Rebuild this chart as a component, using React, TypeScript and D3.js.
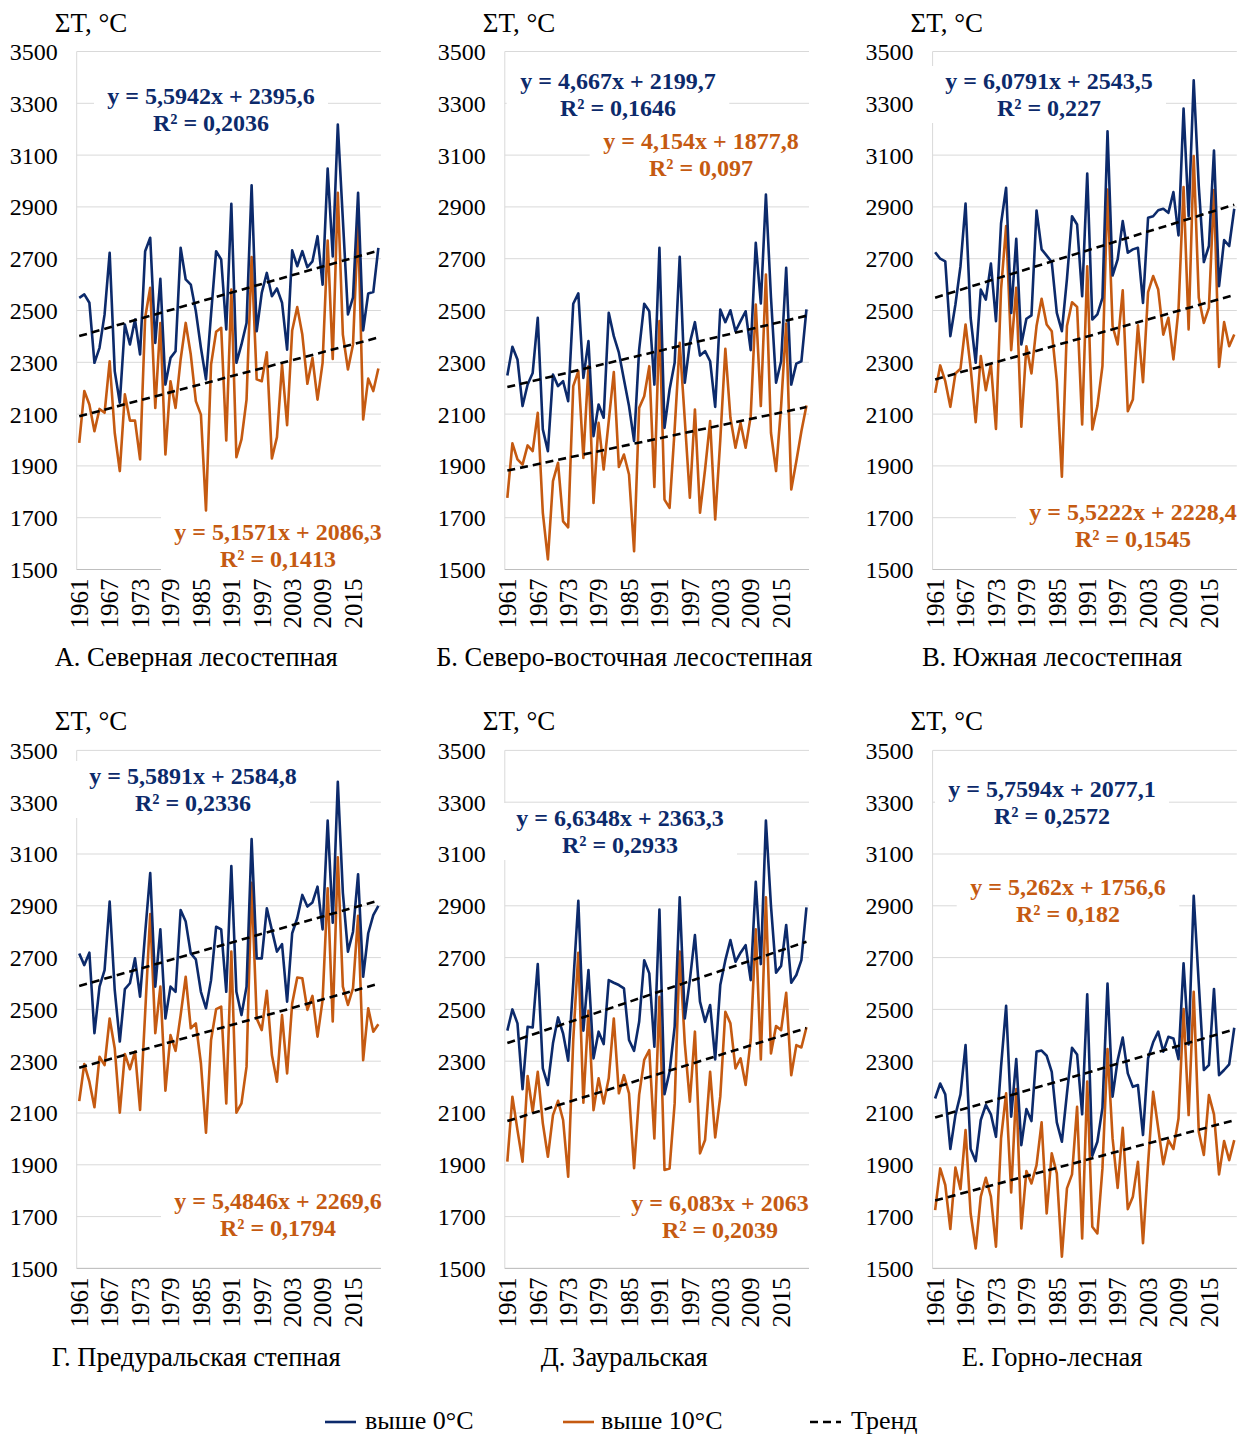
import React from "react";
import * as d3 from "d3";

const years = d3.range(1961, 2021);
const xTickYears = [1961, 1967, 1973, 1979, 1985, 1991, 1997, 2003, 2009, 2015];
const yTicks = [1500, 1700, 1900, 2100, 2300, 2500, 2700, 2900, 3100, 3300, 3500];

// А. Северная лесостепная
const northAbove0 = [2549,2562,2530,2298,2356,2485,2723,2266,2144,2446,2369,2465,2330,2729,2781,2375,2622,2214,2317,2343,2742,2620,2600,2497,2356,2234,2485,2729,2697,2427,2912,2298,2369,2452,2983,2420,2568,2645,2555,2585,2530,2349,2732,2671,2729,2667,2690,2787,2600,3048,2709,3218,2850,2485,2551,2954,2423,2566,2571,2742];
const northAbove10 = [1989,2189,2137,2034,2120,2105,2304,2028,1880,2176,2075,2075,1925,2472,2588,2124,2452,1944,2227,2124,2311,2452,2330,2150,2098,1728,2291,2418,2433,1998,2581,1934,2002,2156,2706,2234,2227,2339,1929,2011,2291,2057,2423,2513,2407,2217,2317,2156,2298,2770,2313,2954,2407,2272,2369,2838,2079,2237,2189,2276];
// Б. Северо-восточная лесостепная
const northeastAbove0 = [2249,2360,2311,2131,2214,2259,2472,2041,1957,2253,2208,2227,2150,2526,2566,2240,2382,2015,2137,2086,2491,2401,2337,2234,2131,1996,2349,2526,2497,2214,2742,2047,2195,2298,2707,2221,2375,2455,2326,2343,2304,2128,2504,2455,2501,2420,2459,2497,2347,2761,2527,2948,2550,2221,2304,2665,2214,2295,2304,2504];
const northeastAbove10 = [1777,1987,1925,1905,1979,1957,2105,1719,1539,1841,1912,1686,1663,2208,2266,1931,2285,1757,2066,1886,2073,2262,1896,1944,1867,1571,2124,2169,2285,1819,2459,1770,1738,2041,2375,2079,1777,2118,1719,1886,2073,1693,1999,2352,2086,1970,2066,1970,2092,2523,2131,2639,2028,1880,2131,2450,1809,1918,2034,2133];
// В. Южная лесостепная
const southAbove0 = [2725,2700,2690,2401,2523,2671,2913,2472,2298,2581,2542,2681,2459,2836,2974,2491,2777,2369,2468,2481,2886,2736,2712,2687,2491,2420,2622,2864,2832,2555,3029,2465,2485,2549,3192,2635,2697,2845,2723,2736,2742,2529,2858,2864,2887,2893,2877,2957,2790,3280,2864,3389,2980,2687,2749,3118,2594,2772,2749,2893];
const southAbove10 = [2182,2288,2227,2128,2257,2275,2446,2279,2069,2324,2192,2292,2043,2581,2826,2347,2588,2051,2362,2257,2440,2545,2446,2420,2227,1858,2440,2532,2514,2060,2671,2041,2131,2285,2967,2440,2369,2578,2111,2156,2443,2223,2571,2633,2581,2407,2472,2311,2504,2977,2427,3096,2549,2452,2510,2965,2282,2455,2362,2407];
// Г. Предуральская степная
const preuralAbove0 = [2716,2671,2719,2408,2588,2652,2916,2575,2376,2578,2601,2697,2549,2794,3026,2588,2809,2465,2588,2568,2884,2839,2716,2693,2568,2504,2613,2819,2809,2568,3053,2568,2478,2588,3158,2697,2697,2890,2806,2723,2752,2530,2794,2852,2942,2897,2913,2974,2809,3229,2835,3379,2950,2723,2800,3022,2626,2794,2864,2900];
const preuralAbove10 = [2146,2289,2221,2122,2317,2285,2465,2350,2101,2328,2269,2337,2112,2485,2868,2408,2588,2186,2401,2340,2478,2626,2427,2446,2292,2024,2382,2501,2511,2137,2723,2101,2137,2279,2989,2465,2420,2572,2324,2221,2478,2253,2523,2623,2620,2498,2552,2395,2536,2968,2453,3087,2588,2517,2582,2861,2304,2504,2414,2443];
// Д. Зауральская
const transuralAbove0 = [2418,2500,2446,2192,2433,2430,2675,2272,2208,2369,2469,2407,2302,2601,2919,2418,2652,2311,2414,2366,2613,2603,2594,2581,2382,2340,2452,2690,2639,2356,2886,2173,2259,2433,2933,2465,2613,2787,2530,2452,2517,2307,2594,2690,2768,2684,2719,2748,2613,2993,2675,3229,2900,2642,2668,2826,2603,2633,2690,2894];
const transuralAbove10 = [1912,2163,2034,1912,2243,2105,2259,2060,1931,2092,2147,2073,1854,2382,2719,2140,2495,2111,2234,2137,2234,2465,2176,2246,2176,1887,2170,2305,2343,2002,2549,1880,1886,2137,2723,2369,2144,2414,1944,1996,2259,2006,2163,2491,2446,2272,2311,2208,2382,2809,2307,2933,2330,2436,2420,2564,2246,2362,2353,2431];
// Е. Горно-лесная
const mountainAbove0 = [2156,2214,2172,1961,2092,2172,2362,1961,1914,2073,2131,2095,2008,2279,2514,2086,2308,1976,2115,2069,2337,2341,2321,2259,2064,1989,2176,2352,2326,2095,2558,1935,1989,2120,2600,2163,2304,2391,2253,2201,2208,2015,2311,2373,2414,2337,2394,2388,2308,2678,2365,2939,2600,2266,2285,2579,2246,2266,2288,2429];
const mountainAbove10 = [1725,1886,1822,1652,1889,1806,2034,1712,1577,1777,1850,1777,1584,2002,2176,1793,2192,1654,1876,1828,1899,2064,1712,1944,1867,1545,1809,1863,2124,1616,2221,1661,1635,1886,2347,2002,1811,2043,1729,1777,1912,1597,1905,2182,2041,1902,1995,1961,2079,2501,2092,2568,2028,1938,2169,2095,1863,1992,1918,1995];

const above0Series = [northAbove0, northeastAbove0, southAbove0, preuralAbove0, transuralAbove0, mountainAbove0];
const above10Series = [northAbove10, northeastAbove10, southAbove10, preuralAbove10, transuralAbove10, mountainAbove10];

const panelTitles = [
  "А. Северная лесостепная",
  "Б. Северо-восточная лесостепная",
  "В. Южная лесостепная",
  "Г. Предуральская степная",
  "Д. Зауральская",
  "Е. Горно-лесная",
];

const slopeAbove0 = [5.5942, 4.667, 6.0791, 5.5891, 6.6348, 5.7594];
const interceptAbove0 = [2395.6, 2199.7, 2543.5, 2584.8, 2363.3, 2077.1];
const slopeAbove10 = [5.1571, 4.154, 5.5222, 5.4846, 6.083, 5.262];
const interceptAbove10 = [2086.3, 1877.8, 2228.4, 2269.6, 2063, 1756.6];
const eqAbove0 = ["y = 5,5942x + 2395,6", "y = 4,667x + 2199,7", "y = 6,0791x + 2543,5", "y = 5,5891x + 2584,8", "y = 6,6348x + 2363,3", "y = 5,7594x + 2077,1"];
const r2Above0 = ["R² = 0,2036", "R² = 0,1646", "R² = 0,227", "R² = 0,2336", "R² = 0,2933", "R² = 0,2572"];
const eqAbove10 = ["y = 5,1571x + 2086,3", "y = 4,154x + 1877,8", "y = 5,5222x + 2228,4", "y = 5,4846x + 2269,6", "y = 6,083x + 2063", "y = 5,262x + 1756,6"];
const r2Above10 = ["R² = 0,1413", "R² = 0,097", "R² = 0,1545", "R² = 0,1794", "R² = 0,2039", "R² = 0,182"];

const legendLabels = ["выше 0°C", "выше 10°C", "Тренд"];

// layout
const BLUE = "#0c2a6b";
const ORANGE = "#c55a11";
const FONT = "'Liberation Serif', 'Times New Roman', serif";
const COLS = [76.7, 504.8, 932.6];
const ROWS = [
  { top: 51.5, bottom: 569.5 },
  { top: 750.4, bottom: 1268.4 },
];
const PLOT_W = 304.2;
const label0Pos = [[211, 96], [618, 81], [1049, 81], [193, 776], [620, 818], [1052, 789]];
const label10Pos = [[278, 532], [701, 141], [1133, 512], [278, 1201], [720, 1203], [1068, 887]];
const LINE_GAP = 27;
const LEGEND_Y = 1420;

function Panel({ k }: { k: number }) {
  const col = k % 3;
  const row = Math.floor(k / 3);
  const left = COLS[col];
  const { top, bottom } = ROWS[row];
  const x = d3.scaleBand<number>().domain(years).range([left, left + PLOT_W]);
  const cx = (yr: number) => (x(yr) as number) + x.bandwidth() / 2;
  const y = d3.scaleLinear().domain([1500, 3500]).range([bottom, top]);
  const line = d3
    .line<number>()
    .x((_, i) => cx(years[i]))
    .y((v) => y(v));
  const seg = d3
    .line<[number, number]>()
    .x((d) => cx(d[0]))
    .y((d) => y(d[1]));
  const n = years.length;
  const trend = (s: number, b: number) =>
    seg([
      [years[0], s * 1 + b],
      [years[n - 1], s * n + b],
    ]) as string;

  const labels = [
    { pos: label0Pos[k], eq: eqAbove0[k], r2: r2Above0[k], color: BLUE },
    { pos: label10Pos[k], eq: eqAbove10[k], r2: r2Above10[k], color: ORANGE },
  ];

  return (
    <g>
      {yTicks.map((t) => (
        <line key={t} x1={left} x2={left + PLOT_W} y1={y(t)} y2={y(t)} stroke="#d9d9d9" strokeWidth={1} />
      ))}
      <line x1={left} x2={left} y1={top} y2={bottom} stroke="#d9d9d9" strokeWidth={1} />
      <line x1={left} x2={left + PLOT_W} y1={bottom} y2={bottom} stroke="#bfbfbf" strokeWidth={1} />
      {labels.map((l, i) => {
        const w = l.eq.length * 11.4 + 6;
        return (
          <rect key={i} x={l.pos[0] - w / 2} y={l.pos[1] - 15} width={w} height={LINE_GAP + 30} fill="#fff" />
        );
      })}
      {yTicks.map((t) => (
        <text key={t} x={left - 19} y={y(t)} dy="0.35em" textAnchor="end" fontSize={24}>
          {t}
        </text>
      ))}
      {xTickYears.map((yr) => (
        <text
          key={yr}
          transform={`translate(${cx(yr)},${bottom + 9}) rotate(-90)`}
          dy="0.35em"
          textAnchor="end"
          fontSize={25}
        >
          {yr}
        </text>
      ))}
      <text x={left - 22} y={top - 20} fontSize={27}>
        ΣT, °C
      </text>
      <text x={left + 119.5} y={row === 0 ? 666 : 1366} textAnchor="middle" fontSize={26.5}>
        {panelTitles[k]}
      </text>
      <path d={line(above10Series[k]) as string} fill="none" stroke={ORANGE} strokeWidth={2.6} strokeLinejoin="round" />
      <path d={line(above0Series[k]) as string} fill="none" stroke={BLUE} strokeWidth={2.6} strokeLinejoin="round" />
      <path d={trend(slopeAbove0[k], interceptAbove0[k])} fill="none" stroke="#000" strokeWidth={2.6} strokeDasharray="8 5" />
      <path d={trend(slopeAbove10[k], interceptAbove10[k])} fill="none" stroke="#000" strokeWidth={2.6} strokeDasharray="8 5" />
      {labels.map((l, i) => (
        <g key={i} fill={l.color} fontWeight="bold" fontSize={24} textAnchor="middle">
          <text x={l.pos[0]} y={l.pos[1]} dy="0.35em">
            {l.eq}
          </text>
          <text x={l.pos[0]} y={l.pos[1] + LINE_GAP} dy="0.35em">
            {l.r2}
          </text>
        </g>
      ))}
    </g>
  );
}

export default function App() {
  const legendItems = [
    { x1: 325, tx: 365, color: BLUE, dash: undefined as string | undefined, label: legendLabels[0] },
    { x1: 563, tx: 601, color: ORANGE, dash: undefined, label: legendLabels[1] },
    { x1: 810, tx: 851, color: "#000", dash: "8 5", label: legendLabels[2] },
  ];
  return (
    <svg
      width={1237}
      height={1436}
      style={{ position: "absolute", left: 0, top: 0, display: "block" }}
      fontFamily={FONT}
    >
      <rect width={1237} height={1436} fill="#fff" />
      {d3.range(6).map((k) => (
        <Panel key={k} k={k} />
      ))}
      {legendItems.map((it, i) => (
        <g key={i}>
          <line x1={it.x1} x2={it.x1 + 31} y1={LEGEND_Y + 2} y2={LEGEND_Y + 2} stroke={it.color} strokeWidth={2.6} strokeDasharray={it.dash} />
          <text x={it.tx} y={LEGEND_Y} dy="0.35em" fontSize={26}>
            {it.label}
          </text>
        </g>
      ))}
    </svg>
  );
}
